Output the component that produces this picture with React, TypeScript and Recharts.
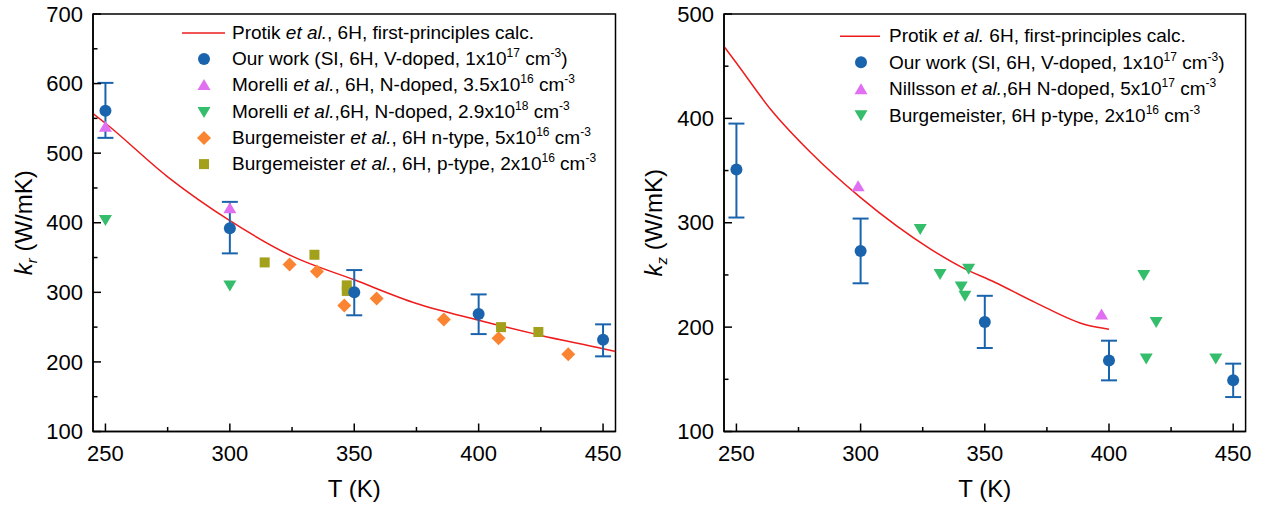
import React from "react";
import {
  ComposedChart,
  Scatter,
  Line,
  XAxis,
  YAxis,
  ErrorBar,
  ReferenceArea,
  Label,
} from "recharts";

const FONT = '"Liberation Sans", Arial, Helvetica, sans-serif';

const BLUE = "#1a64ad";
const RED = "#ee1c1c";
const VIOLET = "#e16ff2";
const GREEN = "#34bd6a";
const ORANGE = "#fb8432";
const OLIVE = "#a3a01b";

// ---- panel a : k_r ----
const protikRT = [245, 250, 275, 300, 325, 350, 375, 400, 425, 450, 455];
const protikRK = [557, 543, 466, 403, 352, 318, 284, 260, 238, 219, 215];

const ourRT = [250, 300, 350, 400, 450];
const ourRK = [561, 392, 300, 269, 232];
const ourRLo = [522, 356, 267, 240, 208];
const ourRHi = [601, 430, 332, 297, 254];

const morelliAT = [250, 300];
const morelliAK = [538, 421];
const morelliBT = [250, 300];
const morelliBK = [404, 310];

const burgNT = [324, 335, 346, 359, 386, 408, 436];
const burgNK = [340, 330, 281, 291, 261, 234, 211];
const burgPT = [314, 334, 347, 347, 409, 424];
const burgPK = [343, 354, 310, 302, 250, 243];

// ---- panel b : k_z ----
const protikZT = [245, 250, 264, 280, 300, 328, 341, 354, 370, 391, 400];
const protikZK = [469, 453, 408, 367, 324, 275, 257, 243, 224, 202, 198];

const ourZT = [250, 300, 350, 400, 450];
const ourZK = [351, 273, 205, 168, 149];
const ourZLo = [305, 242, 180, 149, 133];
const ourZHi = [395, 304, 230, 187, 165];

const nillT = [299, 397];
const nillK = [335, 212];

const burgZT = [324, 332, 343.5, 340.5, 342, 414, 419, 415, 443];
const burgZK = [294, 251, 256, 239, 230, 250, 205, 170, 170];

const xTicks = [250, 275, 300, 325, 350, 375, 400, 425, 450];
const yTicksR = [100, 150, 200, 250, 300, 350, 400, 450, 500, 550, 600, 650, 700];
const yTicksZ = [100, 150, 200, 250, 300, 350, 400, 450, 500];

const pts = (T: number[], k: number[]) => T.map((t, i) => ({ T: t, k: k[i] }));
const withErr = (T: number[], k: number[], lo: number[], hi: number[]) =>
  T.map((t, i) => ({ T: t, k: k[i], e: [k[i] - lo[i], hi[i] - k[i]] }));

type Kind = "circle" | "up" | "down" | "diamond" | "square";

function Marker({ kind, color, cx, cy }: { kind: Kind; color: string; cx: number; cy: number }) {
  if (cx == null || cy == null) return null;
  switch (kind) {
    case "circle":
      return <circle cx={cx} cy={cy} r={6} fill={color} />;
    case "up":
      return (
        <polygon
          points={`${cx - 6.5},${cy + 5} ${cx + 6.5},${cy + 5} ${cx},${cy - 6}`}
          fill={color}
        />
      );
    case "down":
      return (
        <polygon
          points={`${cx - 6.5},${cy - 5} ${cx + 6.5},${cy - 5} ${cx},${cy + 6}`}
          fill={color}
        />
      );
    case "diamond":
      return (
        <polygon
          points={`${cx},${cy - 7} ${cx + 7},${cy} ${cx},${cy + 7} ${cx - 7},${cy}`}
          fill={color}
        />
      );
    default:
      return <rect x={cx - 5} y={cy - 5} width={10} height={10} fill={color} />;
  }
}

function XTick(props: any) {
  const { x, y, payload } = props;
  const major = payload.value % 50 === 0;
  return (
    <g>
      <line x1={x} x2={x} y1={y} y2={y - (major ? 8 : 4.5)} stroke="#000" strokeWidth={1.5} />
      {major && (
        <text
          x={x}
          y={y + 22}
          dy="0.35em"
          textAnchor="middle"
          fontSize={22}
          fontFamily={FONT}
          fill="#000"
        >
          {payload.value}
        </text>
      )}
    </g>
  );
}

function YTick(props: any) {
  const { x, y, payload } = props;
  const major = payload.value % 100 === 0;
  return (
    <g>
      <line x1={x} x2={x + (major ? 8 : 4.5)} y1={y} y2={y} stroke="#000" strokeWidth={1.5} />
      {major && (
        <text
          x={x - 10}
          y={y}
          dy="0.35em"
          textAnchor="end"
          fontSize={22}
          fontFamily={FONT}
          fill="#000"
        >
          {payload.value}
        </text>
      )}
    </g>
  );
}

type Extra = { data: { T: number; k: number }[]; kind: Kind; color: string };

type LegendRow = { kind: Kind | "line"; color: string; text: React.ReactNode };

function Sup({ children }: { children: React.ReactNode }) {
  return (
    <span style={{ fontSize: 12, position: "relative", top: -8, lineHeight: 0 }}>{children}</span>
  );
}

function Legend({
  left,
  top,
  rowH,
  lineX,
  markX,
  svgW,
  rows,
}: {
  left: number;
  top: number;
  rowH: number;
  lineX: [number, number];
  markX: number;
  svgW: number;
  rows: LegendRow[];
}) {
  return (
    <div style={{ position: "absolute", left, top, fontFamily: FONT, fontSize: 19, color: "#000" }}>
      {rows.map((r, i) => (
        <div key={i} style={{ height: rowH, display: "flex", alignItems: "center", whiteSpace: "nowrap" }}>
          <svg width={svgW} height={rowH} style={{ flex: "none" }}>
            {r.kind === "line" ? (
              <line x1={lineX[0]} x2={lineX[1]} y1={rowH / 2} y2={rowH / 2} stroke={r.color} strokeWidth={1.5} />
            ) : (
              <Marker kind={r.kind} color={r.color} cx={markX} cy={rowH / 2} />
            )}
          </svg>
          <span>{r.text}</span>
        </div>
      ))}
    </div>
  );
}

function Panel({
  width,
  yWidth,
  right,
  yDomain,
  yTicks,
  sub,
  line,
  ours,
  extras,
}: {
  width: number;
  yWidth: number;
  right: number;
  yDomain: [number, number];
  yTicks: number[];
  sub: string;
  line: { T: number; k: number }[];
  ours: { T: number; k: number; e: number[] }[];
  extras: Extra[];
}) {
  return (
    <ComposedChart
      width={width}
      height={508}
      margin={{ top: 14, right, bottom: 0, left: 0 }}
    >
      <XAxis
        dataKey="T"
        type="number"
        domain={[245, 455]}
        ticks={xTicks}
        interval={0}
        tickSize={0}
        tickMargin={0}
        tick={<XTick />}
        height={76.5}
        axisLine={{ stroke: "#000", strokeWidth: 1.5 }}
        allowDataOverflow
      >
        <Label
          content={(p: any) => {
            const vb = p.viewBox;
            return (
              <text
                x={vb.x + vb.width / 2}
                y={vb.y + 57}
                dy="0.35em"
                textAnchor="middle"
                fontSize={24}
                fontFamily={FONT}
                fill="#000"
              >
                T (K)
              </text>
            );
          }}
        />
      </XAxis>
      <YAxis
        dataKey="k"
        type="number"
        domain={yDomain}
        ticks={yTicks}
        interval={0}
        tickSize={0}
        tickMargin={0}
        tick={<YTick />}
        width={yWidth}
        axisLine={{ stroke: "#000", strokeWidth: 1.5 }}
        allowDataOverflow
      >
        <Label
          content={(p: any) => {
            const vb = p.viewBox;
            const cx = vb.x + 24;
            const cy = vb.y + vb.height / 2;
            return (
              <text
                x={cx}
                y={cy}
                dy="0.35em"
                textAnchor="middle"
                fontSize={24}
                fontFamily={FONT}
                fill="#000"
                transform={`rotate(-90 ${cx} ${cy})`}
              >
                <tspan fontStyle="italic">k</tspan>
                <tspan fontStyle="italic" fontSize={15} dy={5}>
                  {sub}
                </tspan>
                <tspan dy={-5}> (W/mK)</tspan>
              </text>
            );
          }}
        />
      </YAxis>
      <ReferenceArea
        x1={245}
        x2={455}
        y1={yDomain[0]}
        y2={yDomain[1]}
        fill="none"
        stroke="#000"
        strokeWidth={1.5}
        ifOverflow="visible"
      />
      <Line
        data={line}
        dataKey="k"
        type="monotone"
        stroke={RED}
        strokeWidth={1.5}
        dot={false}
        isAnimationActive={false}
      />
      {extras.map((s, i) => (
        <Scatter
          key={i}
          data={s.data}
          dataKey="k"
          isAnimationActive={false}
          shape={(p: any) => <Marker kind={s.kind} color={s.color} cx={p.cx} cy={p.cy} />}
        />
      ))}
      <Scatter
        data={ours}
        dataKey="k"
        isAnimationActive={false}
        shape={(p: any) => <Marker kind="circle" color={BLUE} cx={p.cx} cy={p.cy} />}
      >
        <ErrorBar dataKey="e" direction="y" width={8} stroke={BLUE} strokeWidth={2} />
      </Scatter>
    </ComposedChart>
  );
}

export default function App() {
  const etal = <i>et al.</i>;
  return (
    <div
      style={{
        position: "absolute",
        left: 0,
        top: 0,
        width: 1265,
        height: 508,
        background: "#fff",
        fontFamily: FONT,
      }}
    >
      <div style={{ position: "absolute", left: 0, top: 0 }}>
        <Panel
          width={630}
          yWidth={93}
          right={14.5}
          yDomain={[100, 700]}
          yTicks={yTicksR}
          sub="r"
          line={pts(protikRT, protikRK)}
          ours={withErr(ourRT, ourRK, ourRLo, ourRHi)}
          extras={[
            { data: pts(burgNT, burgNK), kind: "diamond", color: ORANGE },
            { data: pts(burgPT, burgPK), kind: "square", color: OLIVE },
            { data: pts(morelliAT, morelliAK), kind: "up", color: VIOLET },
            { data: pts(morelliBT, morelliBK), kind: "down", color: GREEN },
          ]}
        />
      </div>
      <div style={{ position: "absolute", left: 630, top: 0 }}>
        <Panel
          width={635}
          yWidth={94}
          right={19.4}
          yDomain={[100, 500]}
          yTicks={yTicksZ}
          sub="z"
          line={pts(protikZT, protikZK)}
          ours={withErr(ourZT, ourZK, ourZLo, ourZHi)}
          extras={[
            { data: pts(burgZT, burgZK), kind: "down", color: GREEN },
            { data: pts(nillT, nillK), kind: "up", color: VIOLET },
          ]}
        />
      </div>
      <Legend
        left={178}
        top={20}
        rowH={26.2}
        lineX={[4, 47]}
        markX={26}
        svgW={54}
        rows={[
          { kind: "line", color: RED, text: <>Protik {etal}, 6H, first-principles calc.</> },
          {
            kind: "circle",
            color: BLUE,
            text: (
              <>
                Our work (SI, 6H, V-doped, 1x10<Sup>17</Sup> cm<Sup>-3</Sup>)
              </>
            ),
          },
          {
            kind: "up",
            color: VIOLET,
            text: (
              <>
                Morelli {etal}, 6H, N-doped, 3.5x10<Sup>16</Sup> cm<Sup>-3</Sup>
              </>
            ),
          },
          {
            kind: "down",
            color: GREEN,
            text: (
              <>
                Morelli {etal},6H, N-doped, 2.9x10<Sup>18</Sup> cm<Sup>-3</Sup>
              </>
            ),
          },
          {
            kind: "diamond",
            color: ORANGE,
            text: (
              <>
                Burgemeister {etal}, 6H n-type, 5x10<Sup>16</Sup> cm<Sup>-3</Sup>
              </>
            ),
          },
          {
            kind: "square",
            color: OLIVE,
            text: (
              <>
                Burgemeister {etal}, 6H, p-type, 2x10<Sup>16</Sup> cm<Sup>-3</Sup>
              </>
            ),
          },
        ]}
      />
      <Legend
        left={836}
        top={22.75}
        rowH={26.5}
        lineX={[4, 44]}
        markX={25}
        svgW={53}
        rows={[
          { kind: "line", color: RED, text: <>Protik {etal} 6H, first-principles calc.</> },
          {
            kind: "circle",
            color: BLUE,
            text: (
              <>
                Our work (SI, 6H, V-doped, 1x10<Sup>17</Sup> cm<Sup>-3</Sup>)
              </>
            ),
          },
          {
            kind: "up",
            color: VIOLET,
            text: (
              <>
                Nillsson {etal},6H N-doped, 5x10<Sup>17</Sup> cm<Sup>-3</Sup>
              </>
            ),
          },
          {
            kind: "down",
            color: GREEN,
            text: (
              <>
                Burgemeister, 6H p-type, 2x10<Sup>16</Sup> cm<Sup>-3</Sup>
              </>
            ),
          },
        ]}
      />
    </div>
  );
}
